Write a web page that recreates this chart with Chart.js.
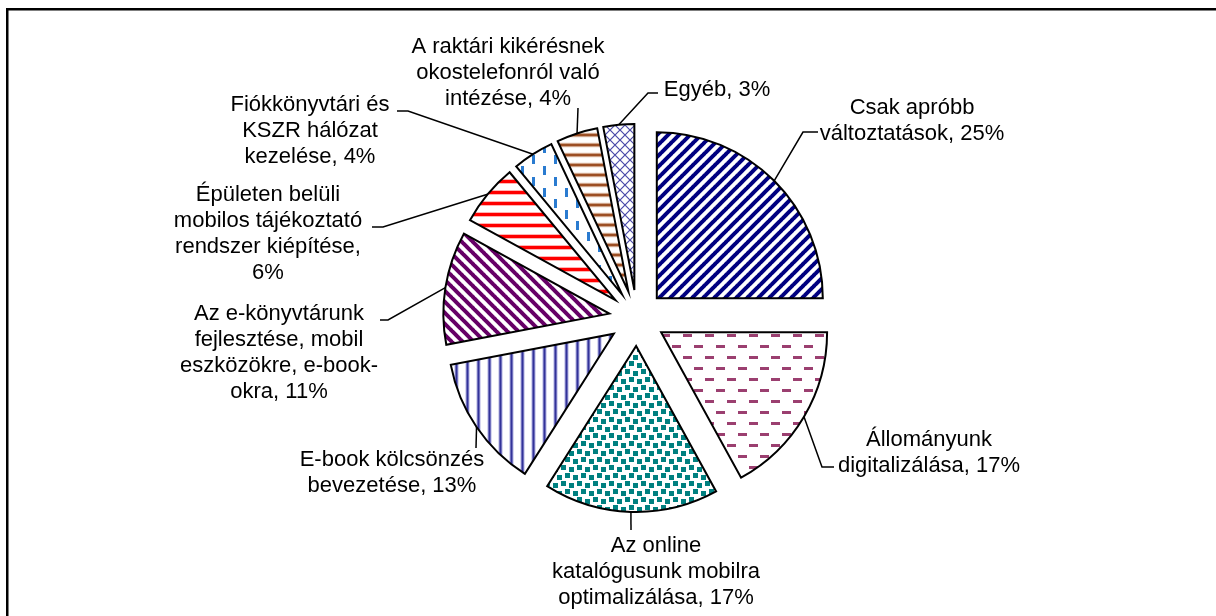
<!DOCTYPE html>
<html>
<head>
<meta charset="utf-8">
<title>Mobil fejlesztések</title>
<script src="https://cdn.jsdelivr.net/npm/chart.js@4.4.1/dist/chart.umd.min.js"></script>
<style>
  html, body { margin: 0; padding: 0; background: #fff; }
  canvas { display: block; }
</style>
</head>
<body>
<canvas id="pie" width="1216" height="616"></canvas>
<script>
// shares, clockwise from 12 o'clock
const categories = [
  'Csak apróbb változtatások',
  'Állományunk digitalizálása',
  'Az online katalógusunk mobilra optimalizálása',
  'E-book kölcsönzés bevezetése',
  'Az e-könyvtárunk fejlesztése, mobil eszközökre, e-book-okra',
  'Épületen belüli mobilos tájékoztató rendszer kiépítése',
  'Fiókkönyvtári és KSZR hálózat kezelése',
  'A raktári kikérésnek okostelefonról való intézése',
  'Egyéb'
];
const shares = [25, 17, 17, 13, 11, 6, 4, 4, 3];

// how each data label is wrapped on the chart ({p} = the share)
const labelLines = [
  ['Csak apróbb', 'változtatások, {p}%'],
  ['Állományunk', 'digitalizálása, {p}%'],
  ['Az online', 'katalógusunk mobilra', 'optimalizálása, {p}%'],
  ['E-book kölcsönzés', 'bevezetése, {p}%'],
  ['Az e-könyvtárunk', 'fejlesztése, mobil', 'eszközökre, e-book-', 'okra, {p}%'],
  ['Épületen belüli', 'mobilos tájékoztató', 'rendszer kiépítése,', '{p}%'],
  ['Fiókkönyvtári és', 'KSZR hálózat', 'kezelése, {p}%'],
  ['A raktári kikérésnek', 'okostelefonról való', 'intézése, {p}%'],
  ['Egyéb, {p}%']
];

// where the labels sit and how the leader lines bend
const labelPlaces = [
  { x: 912, y: 108, leader: [[803, 132], [818, 132]] },
  { x: 929, y: 440, leader: [[822, 467], [834, 467]] },
  { x: 656, y: 546, leader: [[631, 530]] },
  { x: 392, y: 460, leader: [[476, 448]] },
  { x: 279, y: 314, leader: [[388, 320], [380, 320]] },
  { x: 268, y: 195, leader: [[383, 227], [372, 227]] },
  { x: 310, y: 105, leader: [[408, 111], [397, 111]] },
  { x: 508, y: 47, leader: [[578, 108]] },
  { x: 717, y: 90, leader: [[648, 93], [658, 93]] }
];

const EXPLODE = 28;
const LINE_H = 26;
const FONT = '22px "Liberation Sans", Arial, sans-serif';

const canvas = document.getElementById('pie');
const ctx = canvas.getContext('2d');

// --- hatch fills, Excel-style ---
function tile(w, h, paint) {
  const c = document.createElement('canvas');
  c.width = w;
  c.height = h;
  const g = c.getContext('2d');
  g.fillStyle = '#fff';
  g.fillRect(0, 0, w, h);
  paint(g, w, h);
  return ctx.createPattern(c, 'repeat');
}

function diagonal(color, s, lw, up) {
  return tile(s, s, g => {
    g.strokeStyle = color;
    g.lineWidth = lw;
    for (let k = -1; k <= 1; k++) {
      g.beginPath();
      if (up) {
        g.moveTo(k * s - 1, s + 1);
        g.lineTo(k * s + s + 1, -1);
      } else {
        g.moveTo(k * s - 1, -1);
        g.lineTo(k * s + s + 1, s + 1);
      }
      g.stroke();
    }
  });
}

function horizontal(color, halo, s, lw) {
  return tile(4, s, g => {
    g.fillStyle = halo;
    g.fillRect(0, s / 2 - lw / 2 - 1, 4, lw + 2);
    g.fillStyle = color;
    g.fillRect(0, s / 2 - lw / 2, 4, lw);
  });
}

function vertical(color, halo, s, lw) {
  return tile(s, 4, g => {
    g.fillStyle = halo;
    g.fillRect(s / 2 - lw / 2 - 1, 0, lw + 2, 4);
    g.fillStyle = color;
    g.fillRect(s / 2 - lw / 2, 0, lw, 4);
  });
}

const fills = [
  diagonal('#000080', 11, 4, true),
  tile(22, 22, g => {
    g.fillStyle = '#9b3f70';
    g.fillRect(1, 4, 9, 3);
    g.fillRect(12, 15, 9, 3);
  }),
  tile(16, 16, g => {
    g.fillStyle = '#008080';
    g.fillRect(1, 1, 5, 5);
    g.fillRect(9, 3, 5, 5);
    g.fillRect(5, 9, 5, 5);
    g.fillRect(13, 11, 3, 5);
    g.fillRect(0, 11, 2, 5);
  }),
  vertical('#333399', '#b0b0e0', 11, 2),
  diagonal('#660066', 11, 4, false),
  horizontal('#ff0000', '#ffb4b4', 11, 3),
  tile(22, 22, g => {
    g.fillStyle = '#2a7bd0';
    g.fillRect(4, 1, 3, 9);
    g.fillRect(15, 12, 3, 9);
  }),
  horizontal('#9c4f24', '#e0c0ac', 10, 2.5),
  tile(10, 10, g => {
    g.strokeStyle = '#4a4aa8';
    g.lineWidth = 1.2;
    g.beginPath();
    g.moveTo(-1, -1); g.lineTo(11, 11);
    g.moveTo(-1, 11); g.lineTo(11, -1);
    g.stroke();
  })
];

// white page with the frame's top and left edge
const framePlugin = {
  id: 'frame',
  beforeDraw(chart) {
    const c = chart.ctx;
    c.save();
    c.fillStyle = '#fff';
    c.fillRect(0, 0, chart.width, chart.height);
    c.fillStyle = '#000';
    c.fillRect(6, 8, chart.width - 6, 2.5);
    c.fillRect(6, 8, 2.5, chart.height - 8);
    c.restore();
  }
};

// pull every slice out of the centre by the same distance
const explodePlugin = {
  id: 'explode',
  beforeDatasetsDraw(chart) {
    const meta = chart.getDatasetMeta(0);
    const area = chart.chartArea;
    const cx = (area.left + area.right) / 2 + (meta.controller.offsetX || 0);
    const cy = (area.top + area.bottom) / 2 + (meta.controller.offsetY || 0);
    meta.data.forEach(arc => {
      const mid = (arc.startAngle + arc.endAngle) / 2;
      arc.x = cx + Math.cos(mid) * EXPLODE;
      arc.y = cy + Math.sin(mid) * EXPLODE;
    });
  }
};

// data labels with leader lines
const labelPlugin = {
  id: 'pieLabels',
  afterDatasetsDraw(chart) {
    const c = chart.ctx;
    const meta = chart.getDatasetMeta(0);
    c.save();
    c.strokeStyle = '#000';
    c.lineWidth = 1.5;
    c.fillStyle = '#000';
    c.font = FONT;
    c.textAlign = 'center';
    c.textBaseline = 'middle';
    meta.data.forEach((arc, i) => {
      const place = labelPlaces[i];
      const mid = (arc.startAngle + arc.endAngle) / 2;
      c.beginPath();
      c.moveTo(arc.x + Math.cos(mid) * arc.outerRadius, arc.y + Math.sin(mid) * arc.outerRadius);
      place.leader.forEach(p => c.lineTo(p[0], p[1]));
      c.stroke();
      labelLines[i].forEach((t, j) => {
        c.fillText(t.replace('{p}', shares[i]), place.x, place.y + j * LINE_H);
      });
    });
    c.restore();
  }
};

new Chart(canvas, {
  type: 'pie',
  data: {
    labels: categories,
    datasets: [{
      data: shares,
      backgroundColor: fills,
      borderColor: '#000',
      borderWidth: 2,
      borderJoinStyle: 'miter',
      hoverOffset: 0
    }]
  },
  options: {
    responsive: false,
    animation: false,
    events: [],
    radius: 166,
    layout: { padding: { left: 58, top: 20, right: 0, bottom: 0 } },
    plugins: {
      legend: { display: false },
      tooltip: { enabled: false }
    }
  },
  plugins: [framePlugin, explodePlugin, labelPlugin]
});
</script>
</body>
</html>
